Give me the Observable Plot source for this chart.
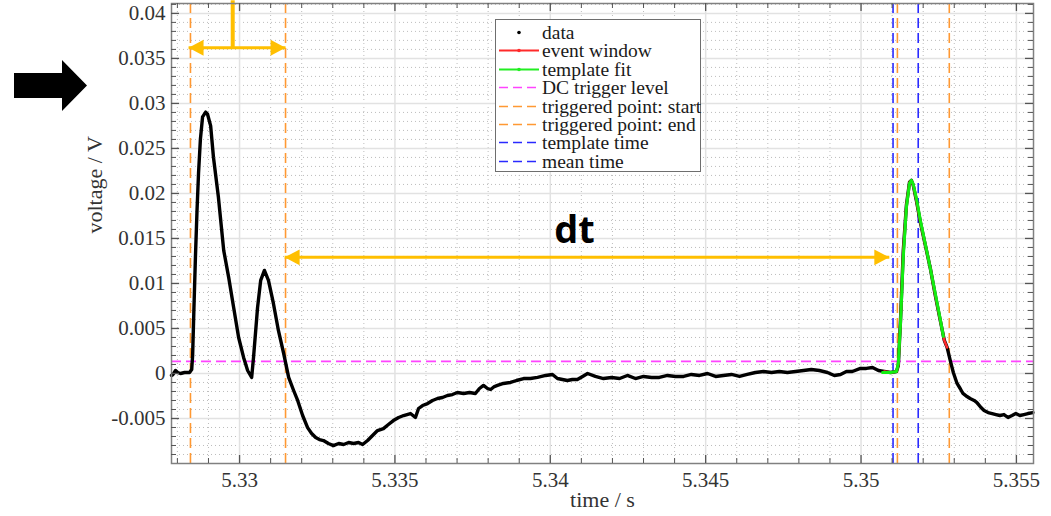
<!DOCTYPE html>
<html>
<head>
<meta charset="utf-8">
<script src="https://cdn.jsdelivr.net/npm/d3@7"></script>
<script src="https://cdn.jsdelivr.net/npm/@observablehq/plot@0.6"></script>
<style>
  body { margin: 0; background: #fff; }
  #wrap { position: relative; width: 1051px; height: 516px; overflow: hidden; background: #fff; }
  #legend { position: absolute; left: 495px; top: 19px; width: 206px; height: 153px; background: #fff;
            border: 1px solid #6e6e6e; box-sizing: border-box;
            font-family: "Times New Roman", "Tinos", "Liberation Serif", "DejaVu Serif", serif;
            font-size: 19.5px; line-height: 17px; color: #1a1a1a; }
  .row { position: absolute; left: 0; height: 17px; display: flex; align-items: center; white-space: nowrap; }
  .row svg { margin-left: 3px; margin-right: 3px; }
  .row span { line-height: 17px; }
  #bigarrow { position: absolute; left: 0; top: 0; }
</style>
</head>
<body>
<div id="wrap">
  <svg id="bigarrow" width="100" height="130"><polygon points="14,73 62,73 62,60 87,85.5 62,111 62,98 14,98" fill="#000"/></svg>
</div>
<script>
// ---- data (time / s, voltage / V) ----
const dataT = [5.32781,5.32786,5.32794,5.32801,5.32810,5.32823,5.32839,5.32846,5.32849,5.32853,5.32858,5.32863,5.32868,5.32874,5.32881,5.32891,5.32897,5.32907,5.32916,5.32932,5.32949,5.32965,5.32981,5.32997,5.33013,5.33026,5.33039,5.33045,5.33058,5.33068,5.33080,5.33093,5.33109,5.33125,5.33142,5.33158,5.33174,5.33187,5.33203,5.33219,5.33232,5.33245,5.33257,5.33270,5.33286,5.33302,5.33319,5.33335,5.33351,5.33367,5.33383,5.33396,5.33412,5.33428,5.33444,5.33463,5.33479,5.33495,5.33512,5.33528,5.33550,5.33566,5.33576,5.33589,5.33605,5.33621,5.33637,5.33653,5.33669,5.33685,5.33701,5.33721,5.33740,5.33759,5.33772,5.33785,5.33798,5.33808,5.33820,5.33830,5.33849,5.33872,5.33891,5.33914,5.33936,5.33959,5.33985,5.34007,5.34023,5.34039,5.34055,5.34071,5.34087,5.34104,5.34120,5.34145,5.34171,5.34197,5.34223,5.34248,5.34274,5.34300,5.34326,5.34351,5.34377,5.34403,5.34429,5.34454,5.34480,5.34506,5.34532,5.34557,5.34583,5.34609,5.34634,5.34660,5.34686,5.34712,5.34737,5.34763,5.34789,5.34815,5.34840,5.34866,5.34892,5.34914,5.34934,5.34953,5.34972,5.34998,5.35017,5.35037,5.35056,5.35075,5.35095,5.35114,5.35120,5.35127,5.35136,5.35146,5.35156,5.35162,5.35168,5.35178,5.35191,5.35207,5.35223,5.35239,5.35255,5.35268,5.35277,5.35287,5.35297,5.35309,5.35319,5.35328,5.35341,5.35351,5.35364,5.35373,5.35386,5.35396,5.35409,5.35422,5.35434,5.35447,5.35460,5.35473,5.35486,5.35498,5.35511,5.35524,5.35537,5.35553];
const dataV = [-0.00022,-0.00011,0.00033,0.00011,0,0.00011,0.00011,0.00044,0.00200,0.00700,0.01290,0.01800,0.02224,0.02600,0.02850,0.02903,0.0288,0.0275,0.02402,0.01957,0.01368,0.01068,0.00734,0.004,0.00178,0.00033,-0.00044,0.00178,0.00734,0.01034,0.01145,0.01034,0.00778,0.00478,0.00222,-0.00044,-0.00189,-0.003,-0.00467,-0.00601,-0.00667,-0.00712,-0.00734,-0.00745,-0.00778,-0.00801,-0.00778,-0.00789,-0.00767,-0.00778,-0.00767,-0.00789,-0.00745,-0.00689,-0.00634,-0.00612,-0.00567,-0.00523,-0.00489,-0.00467,-0.00445,-0.00489,-0.00389,-0.00356,-0.00334,-0.003,-0.00278,-0.00267,-0.00245,-0.00234,-0.00211,-0.00222,-0.00211,-0.00222,-0.00167,-0.00133,-0.00167,-0.00178,-0.00145,-0.00133,-0.00111,-0.001,-0.00078,-0.00056,-0.00056,-0.00044,-0.00022,-0.00011,-0.00056,-0.00067,-0.00078,-0.00067,-0.00067,-0.00033,0,-0.00033,-0.00056,-0.00044,-0.00056,-0.00022,-0.00056,-0.00033,-0.00044,-0.00044,-0.00022,-0.00033,-0.00033,-0.00011,-0.00022,0,-0.00033,-0.00022,-0.00011,-0.00033,-0.00011,0.00011,0.00022,0.00011,0.00022,0.00011,0.00022,0.00033,0.00044,0.00033,0.00011,-0.00022,-0.00011,0.00022,0.00022,0.00056,0.00056,0.00067,0.00033,0.00022,0.00011,0.00022,0.00089,0.00589,0.01368,0.01868,0.02124,0.02146,0.02091,0.01924,0.01679,0.01423,0.01168,0.00867,0.00589,0.00367,0.00289,0.00145,0.00011,-0.00111,-0.00167,-0.00222,-0.00256,-0.00278,-0.003,-0.00323,-0.00378,-0.00411,-0.00434,-0.00445,-0.00456,-0.00467,-0.00456,-0.00489,-0.00467,-0.00445,-0.00467,-0.00456,-0.00445,-0.00434];

// event window bounds (time / s)
const eventWindow = [5.35065, 5.35277];

// template fit
const fitT = [5.35069,5.35095,5.35114,5.35120,5.35127,5.35136,5.35146,5.35156,5.35162,5.35168,5.35178,5.35191,5.35207,5.35223,5.35239,5.35255,5.35265];
const fitV = [0.00011,0.00011,0.00022,0.00111,0.00556,0.0129,0.01846,0.02113,0.02146,0.02102,0.01946,0.01701,0.01434,0.01168,0.00889,0.00601,0.00412];

// levels and times
const dcTriggerLevel = [0.00135];
const triggerStart = [5.32842, 5.35117];
const triggerEnd = [5.33148, 5.35284];
const templateTime = [5.35103];
const meanTime = [5.35184];

// annotation arrows
const arrowFrom = [5.32836, 5.33145];
const arrowTo = [5.33148, 5.35091];
const arrowLevel = [0.03618, 0.0129];
const markerTime = [5.32978];
const markerRange = [0.03618, 0.0414];
const dtLabel = ["dt"];
const dtPos = [5.34078, 0.0158];

// ticks and axis titles
const xMajor = [5.33, 5.335, 5.34, 5.345, 5.35, 5.355];
const yMajor = [-0.005, 0, 0.005, 0.01, 0.015, 0.02, 0.025, 0.03, 0.035, 0.04];
const xMinor = d3.range(5328, 5356).map(d => d / 1000).filter(d => !xMajor.some(m => Math.abs(m - d) < 1e-9));
const yMinor = d3.range(-9, 42).map(d => d / 1000).filter(d => !yMajor.some(m => Math.abs(m - d) < 1e-9));
const xTitle = ["time / s"];
const yTitle = ["voltage / V"];

// legend
const legendLabels = ["data","event window","template fit","DC trigger level","triggered point: start","triggered point: end","template time","mean time"];
const legendColors = ["#000000","#ff2a2a","#22ee22","#ff44ff","#ff9933","#ff9933","#2a2aff","#2a2aff"];
const legendKinds = ["dot","linedot","linedot","dash","dash","dash","dash","dash"];

// ---- build ----
const data = dataT.map((t, i) => ({t, v: dataV[i]}));
const eventData = data.filter(d => d.t >= eventWindow[0] && d.t <= eventWindow[1]);
const fit = fitT.map((t, i) => ({t, v: fitV[i]}));
const arrows = arrowFrom.map((x1, i) => ({x1, x2: arrowTo[i], y: arrowLevel[i]}));

const gold = "#ffbf00";
const headSym = {
  draw(ctx, size) {
    const s = Math.sqrt(size / Math.PI);
    ctx.moveTo(0, 0);
    ctx.lineTo(-s, -s * 0.53);
    ctx.lineTo(-s, s * 0.53);
    ctx.closePath();
  }
};

const frameH = 516 - 3 - 53;
const frameW = 1051 - 171 - 18;
const tickCol = "#555";
const serif = '"Times New Roman", Tinos, "Liberation Serif", "DejaVu Serif", serif';

const chart = Plot.plot({
  width: 1051, height: 516,
  marginLeft: 171, marginRight: 18, marginTop: 3, marginBottom: 53,
  x: {domain: [5.32781, 5.35555]},
  y: {domain: [-0.0100, 0.0411]},
  style: {fontFamily: serif, fontSize: "21px", color: "#333", background: "white", overflow: "visible"},
  marks: [
    Plot.ruleX(xMinor, {stroke: "#bdbdbd", strokeDasharray: "1,3"}),
    Plot.ruleY(yMinor, {stroke: "#bdbdbd", strokeDasharray: "1,3"}),
    Plot.ruleX(xMajor, {stroke: "#e2e2e2", strokeWidth: 1.5}),
    Plot.ruleY(yMajor, {stroke: "#e2e2e2", strokeWidth: 1.5}),
    Plot.ruleY(dcTriggerLevel, {stroke: "#ff44ff", strokeWidth: 1.6, strokeDasharray: "10,5"}),
    Plot.ruleX(triggerStart, {stroke: "#ff9933", strokeWidth: 1.6, strokeDasharray: "10,5"}),
    Plot.ruleX(triggerEnd, {stroke: "#ff9933", strokeWidth: 1.6, strokeDasharray: "10,5"}),
    Plot.ruleX(templateTime, {stroke: "#2a2aff", strokeWidth: 1.6, strokeDasharray: "10,5"}),
    Plot.ruleX(meanTime, {stroke: "#2a2aff", strokeWidth: 1.6, strokeDasharray: "10,5"}),
    Plot.line(data, {x: "t", y: "v", stroke: "#000", strokeWidth: 3.4, strokeLinejoin: "round"}),
    Plot.line(eventData, {x: "t", y: "v", stroke: "#ff2a2a", strokeWidth: 2.5}),
    Plot.line(fit, {x: "t", y: "v", stroke: "#11ee11", strokeWidth: 3, strokeLinejoin: "round"}),
    // annotations
    Plot.ruleX(markerTime, {y1: markerRange[0], y2: markerRange[1], stroke: gold, strokeWidth: 4}),
    Plot.link(arrows, {x1: "x1", x2: "x2", y1: "y", y2: "y", stroke: gold, strokeWidth: 3}),
    Plot.dot(arrows, {x: "x2", y: "y", symbol: headSym, r: 15, fill: gold, stroke: null}),
    Plot.dot(arrows, {x: "x1", y: "y", symbol: headSym, r: 15, fill: gold, stroke: null, rotate: 180}),
    Plot.text(dtLabel, {x: dtPos[0], y: dtPos[1], text: d => d, fontSize: 38, fontWeight: "bold",
      fontFamily: '"Open Sans", "DejaVu Sans", sans-serif', fill: "#000"}),
    // frame and ticks (inward, on all sides)
    Plot.frame({stroke: "#808080", strokeWidth: 1.5}),
    Plot.tickX(xMajor, {x: d => d, insetTop: frameH - 8, stroke: tickCol, strokeWidth: 1.3}),
    Plot.tickX(xMajor, {x: d => d, insetBottom: frameH - 8, stroke: tickCol, strokeWidth: 1.3}),
    Plot.tickX(xMinor, {x: d => d, insetTop: frameH - 5, stroke: tickCol}),
    Plot.tickX(xMinor, {x: d => d, insetBottom: frameH - 5, stroke: tickCol}),
    Plot.tickY(yMajor, {y: d => d, insetRight: frameW - 8, stroke: tickCol, strokeWidth: 1.3}),
    Plot.tickY(yMajor, {y: d => d, insetLeft: frameW - 8, stroke: tickCol, strokeWidth: 1.3}),
    Plot.tickY(yMinor, {y: d => d, insetRight: frameW - 5, stroke: tickCol}),
    Plot.tickY(yMinor, {y: d => d, insetLeft: frameW - 5, stroke: tickCol}),
    Plot.axisX(xMajor, {tickSize: 0, tickPadding: 9, tickFormat: d => String(d), label: null, fill: "#333",
      fontFamily: serif, fontSize: 21, fontVariant: "normal"}),
    Plot.axisY(yMajor, {tickSize: 0, tickPadding: 6, tickFormat: d => String(d), label: null, fill: "#333",
      fontFamily: serif, fontSize: 21, fontVariant: "normal"}),
    Plot.text(xTitle, {frameAnchor: "bottom", dy: 43, text: d => d, fontSize: 22, fill: "#333", fontFamily: serif}),
    Plot.text(yTitle, {frameAnchor: "left", dx: -77, rotate: -90, text: d => d, fontSize: 22, fill: "#333", fontFamily: serif})
  ]
});

const wrap = document.getElementById("wrap");
wrap.insertBefore(chart, wrap.firstChild);

// legend box
const lg = document.createElement("div");
lg.id = "legend";
legendLabels.forEach((lab, i) => {
  const row = document.createElement("div");
  row.className = "row";
  row.style.top = (4 + i * 18.4) + "px";
  const c = legendColors[i];
  let sample = "";
  if (legendKinds[i] === "dot") sample = `<circle cx="20" cy="8.5" r="1.8" fill="${c}"/>`;
  else if (legendKinds[i] === "linedot") sample = `<line x1="0" x2="40" y1="8.5" y2="8.5" stroke="${c}" stroke-width="1.8"/><circle cx="20" cy="8.5" r="1.8" fill="${c}"/>`;
  else sample = `<line x1="0" x2="40" y1="8.5" y2="8.5" stroke="${c}" stroke-width="1.6" stroke-dasharray="9,5"/>`;
  row.innerHTML = `<svg width="40" height="17">${sample}</svg><span>${lab}</span>`;
  lg.appendChild(row);
});
wrap.appendChild(lg);
</script>
</body>
</html>
